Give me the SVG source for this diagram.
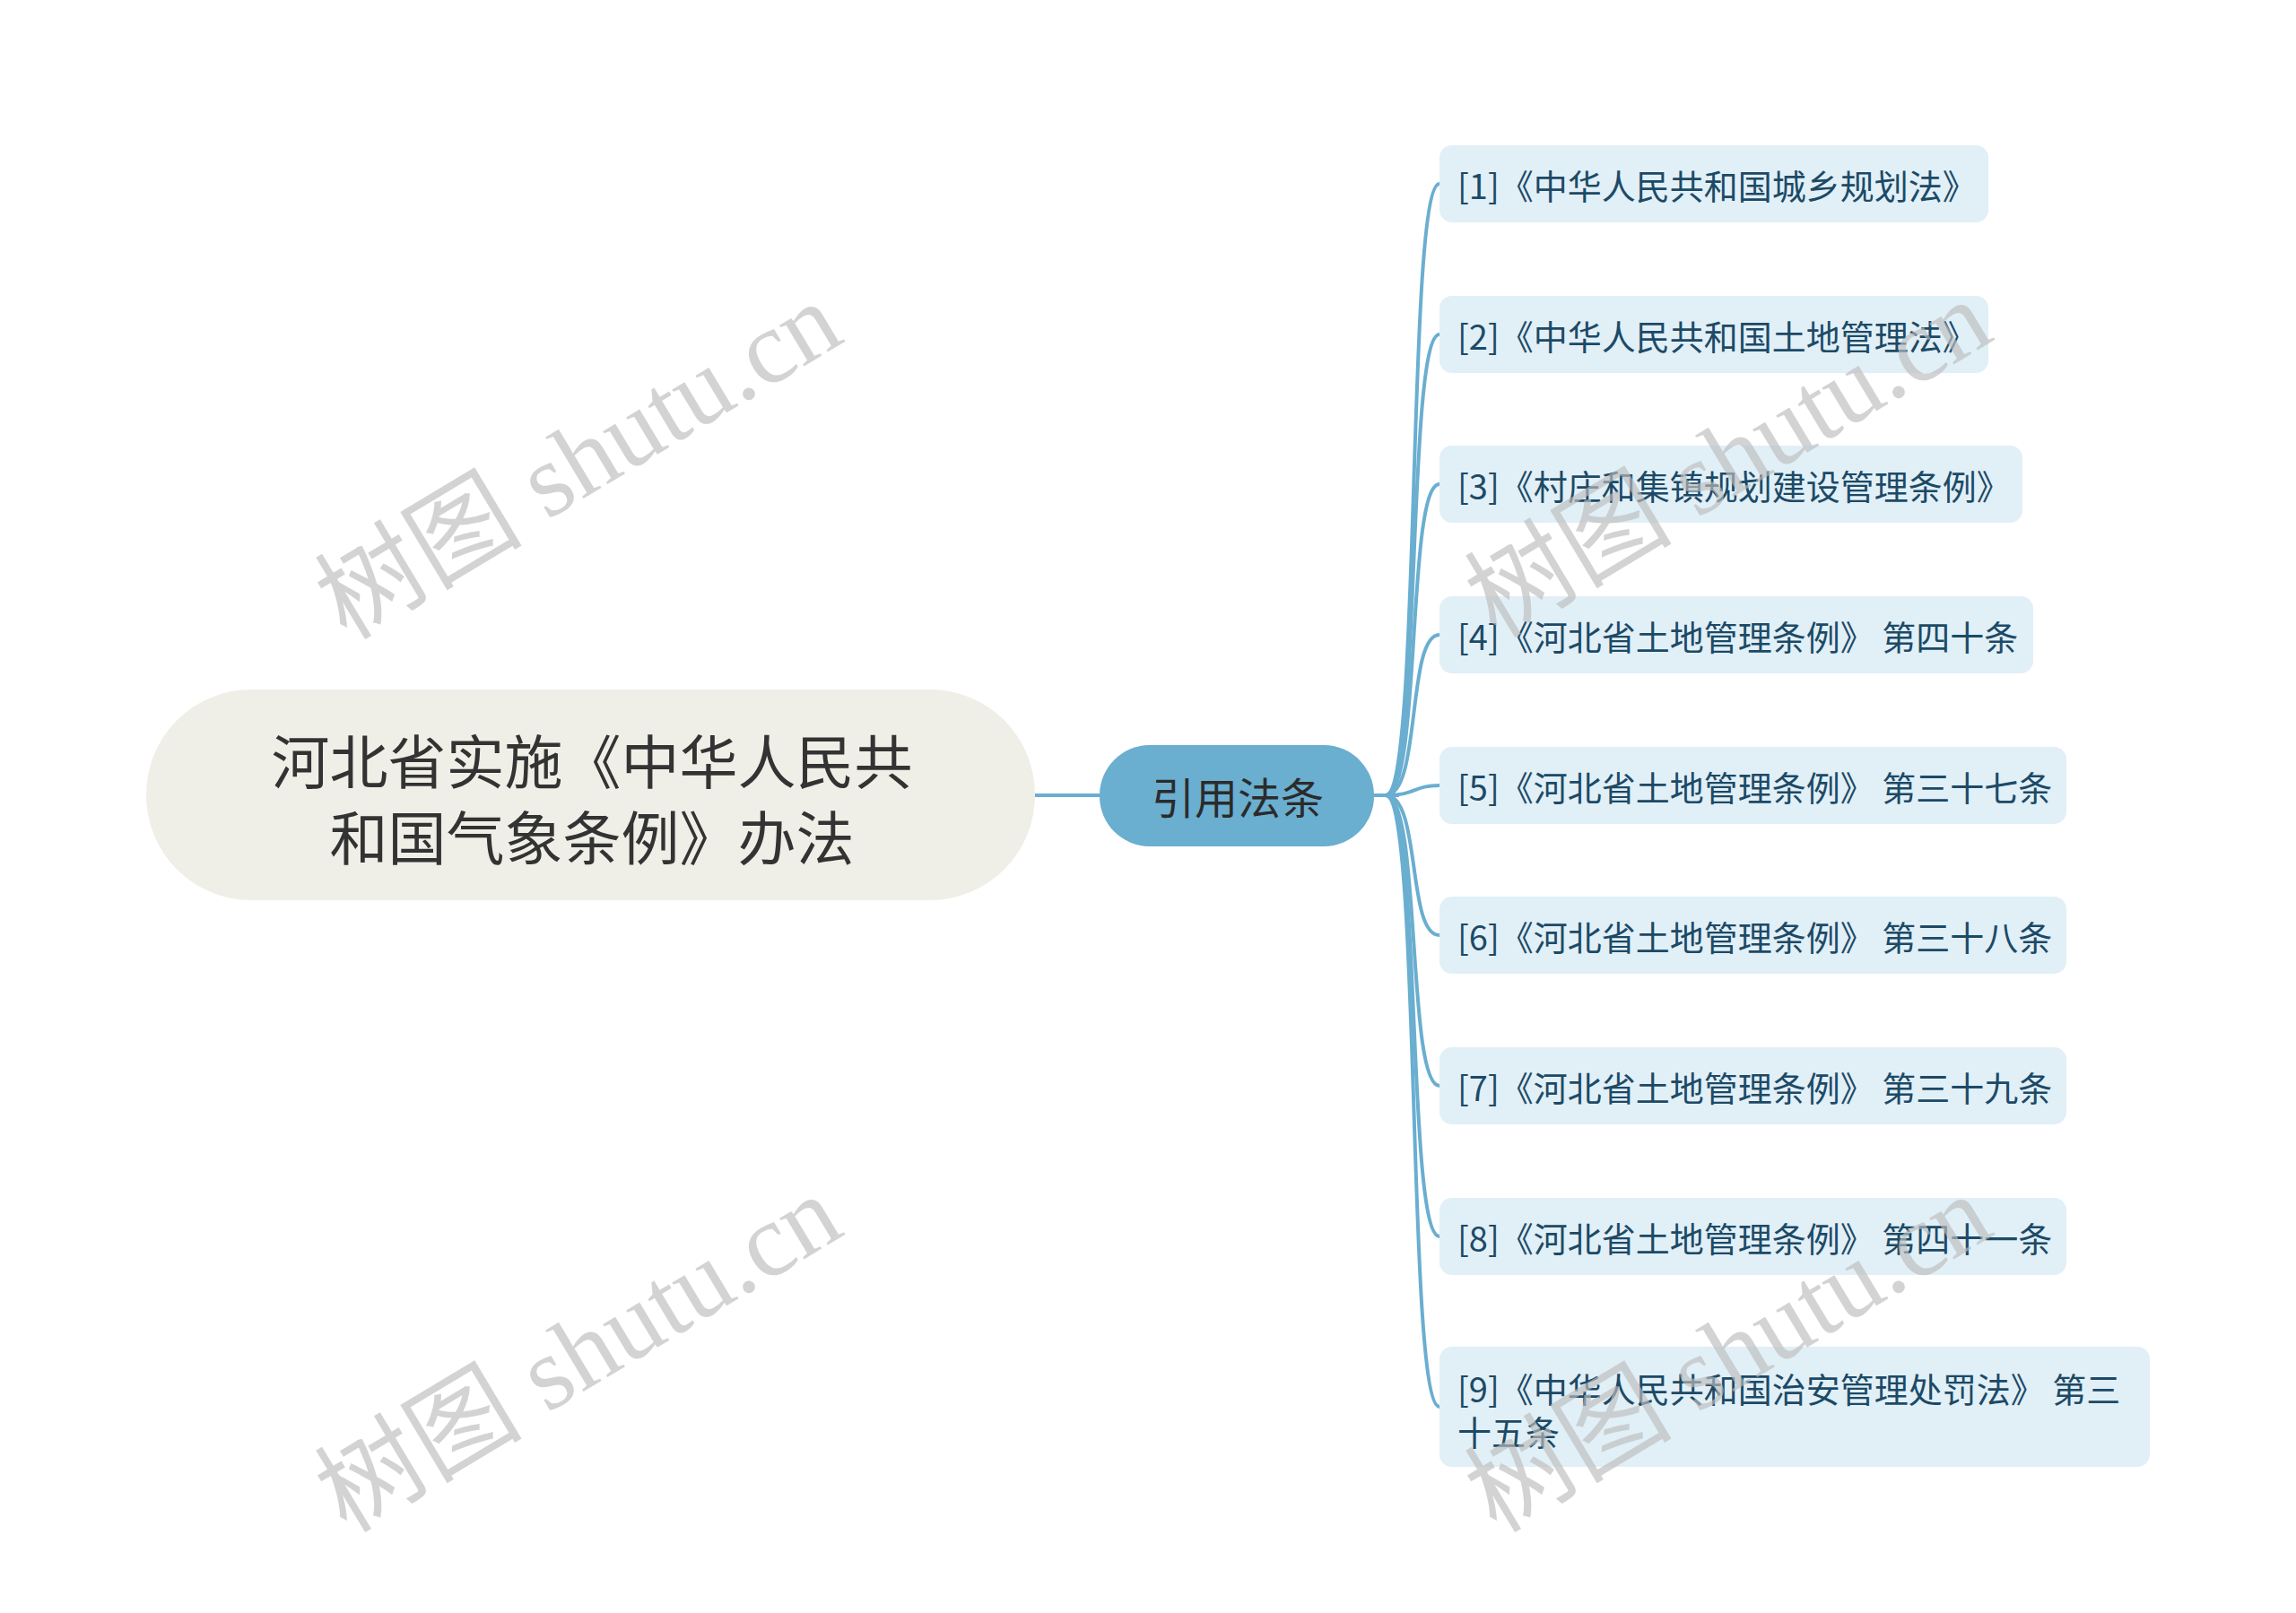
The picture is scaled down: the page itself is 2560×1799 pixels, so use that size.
<svg xmlns="http://www.w3.org/2000/svg" width="2560" height="1799" viewBox="0 0 2560 1799">
<style>
.box{fill:#e1eff7}
.bt{font-family:"Noto Sans CJK SC","Liberation Sans",sans-serif;font-size:38px;fill:#1c4a66}
.con{fill:none;stroke:#6aaed0;stroke-width:4}
.wm{font-family:"Liberation Serif","Noto Sans CJK SC",serif;font-size:116px;fill:#bdbdbd;opacity:.65}
</style>
<rect width="2560" height="1799" fill="#fff"/>
<g id="connectors">
<path class="con" d="M1154 887 H1226"/>
<path class="con" d="M1532 887 H1560"/>
<path class="con" d="M1545 887 C1585 887 1568 205 1605 205"/>
<path class="con" d="M1545 887 C1585 887 1568 373 1605 373"/>
<path class="con" d="M1545 887 C1585 887 1568 540 1605 540"/>
<path class="con" d="M1545 887 C1585 887 1568 708 1605 708"/>
<path class="con" d="M1545 887 C1580 887 1575 876 1605 876"/>
<path class="con" d="M1545 887 C1585 887 1568 1043 1605 1043"/>
<path class="con" d="M1545 887 C1585 887 1568 1211 1605 1211"/>
<path class="con" d="M1545 887 C1585 887 1568 1379 1605 1379"/>
<path class="con" d="M1545 887 C1585 887 1568 1569 1605 1569"/>
</g>
<g id="root">
<rect x="163" y="769" width="991" height="235" rx="117" fill="#efefe7"/>
<text x="660" y="846" text-anchor="middle" dominant-baseline="central" font-family="Noto Sans CJK SC,sans-serif" font-size="65" fill="#333">河北省实施《中华人民共</text>
<text x="660" y="931" text-anchor="middle" dominant-baseline="central" font-family="Noto Sans CJK SC,sans-serif" font-size="65" fill="#333">和国气象条例》办法</text>
</g>
<g id="mid">
<rect x="1226" y="831" width="306" height="113" rx="56" fill="#6aaed0"/>
<text x="1380" y="887" text-anchor="middle" dominant-baseline="central" font-family="Noto Sans CJK SC,sans-serif" font-size="48" fill="#2b2b2b">引用法条</text>
</g>
<g id="n1"><rect class="box" x="1605" y="162" width="612" height="86" rx="14"/><text class="bt" x="1625" y="205" dominant-baseline="central">[1]《中华人民共和国城乡规划法》</text></g>
<g id="n2"><rect class="box" x="1605" y="330" width="612" height="86" rx="14"/><text class="bt" x="1625" y="373" dominant-baseline="central">[2]《中华人民共和国土地管理法》</text></g>
<g id="n3"><rect class="box" x="1605" y="497" width="650" height="86" rx="14"/><text class="bt" x="1625" y="540" dominant-baseline="central">[3]《村庄和集镇规划建设管理条例》</text></g>
<g id="n4"><rect class="box" x="1605" y="665" width="662" height="86" rx="14"/><text class="bt" x="1625" y="708" dominant-baseline="central">[4]《河北省土地管理条例》 第四十条</text></g>
<g id="n5"><rect class="box" x="1605" y="833" width="699" height="86" rx="14"/><text class="bt" x="1625" y="876" dominant-baseline="central">[5]《河北省土地管理条例》 第三十七条</text></g>
<g id="n6"><rect class="box" x="1605" y="1000" width="699" height="86" rx="14"/><text class="bt" x="1625" y="1043" dominant-baseline="central">[6]《河北省土地管理条例》 第三十八条</text></g>
<g id="n7"><rect class="box" x="1605" y="1168" width="699" height="86" rx="14"/><text class="bt" x="1625" y="1211" dominant-baseline="central">[7]《河北省土地管理条例》 第三十九条</text></g>
<g id="n8"><rect class="box" x="1605" y="1336" width="699" height="86" rx="14"/><text class="bt" x="1625" y="1379" dominant-baseline="central">[8]《河北省土地管理条例》 第四十一条</text></g>
<g id="n9"><rect class="box" x="1605" y="1502" width="792" height="134" rx="14"/><text class="bt" x="1625" y="1547" dominant-baseline="central">[9]《中华人民共和国治安管理处罚法》 第三</text><text class="bt" x="1625" y="1595" dominant-baseline="central">十五条</text></g>
<g id="watermarks">
<text class="wm" x="645" y="514" text-anchor="middle" dominant-baseline="central" transform="rotate(-31 645 514)">树图 shutu.cn</text>
<text class="wm" x="645" y="1510" text-anchor="middle" dominant-baseline="central" transform="rotate(-31 645 1510)">树图 shutu.cn</text>
<text class="wm" x="1927" y="512" text-anchor="middle" dominant-baseline="central" transform="rotate(-31 1927 512)">树图 shutu.cn</text>
<text class="wm" x="1927" y="1510" text-anchor="middle" dominant-baseline="central" transform="rotate(-31 1927 1510)">树图 shutu.cn</text>
</g>
</svg>
